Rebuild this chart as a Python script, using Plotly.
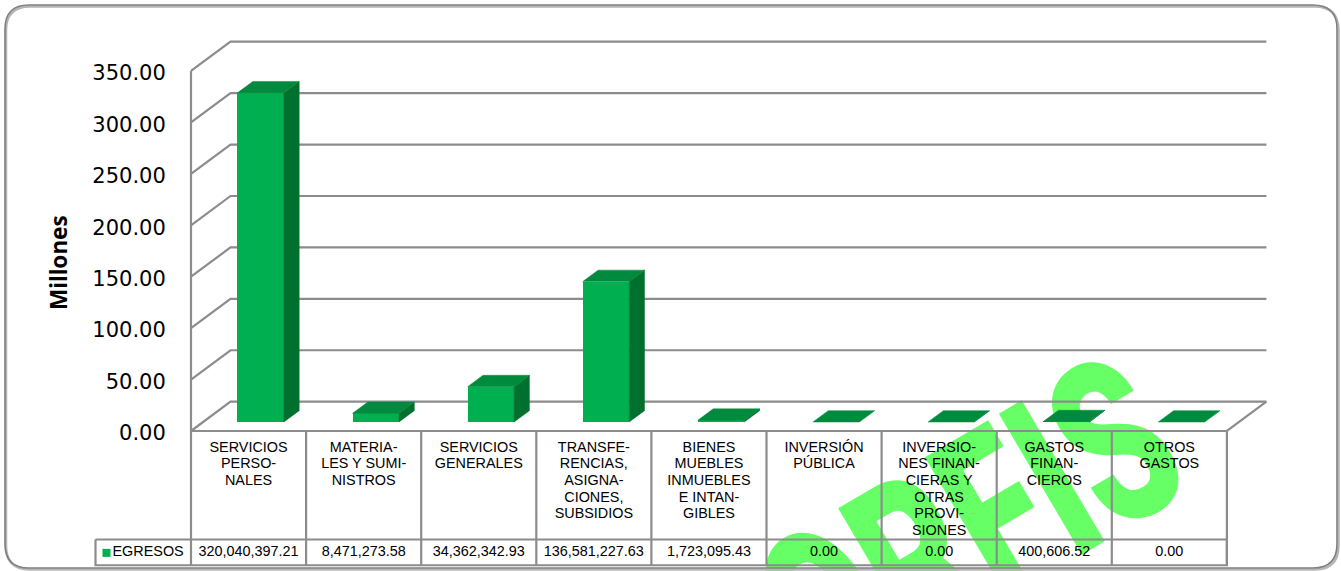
import plotly.graph_objects as go

WIDTH, HEIGHT = 1341, 571

# Spending chapters, one label line per list entry
categories = [
    ["SERVICIOS", "PERSO-", "NALES"],
    ["MATERIA-", "LES Y SUMI-", "NISTROS"],
    ["SERVICIOS", "GENERALES"],
    ["TRANSFE-", "RENCIAS,", "ASIGNA-", "CIONES,", "SUBSIDIOS"],
    ["BIENES", "MUEBLES", "INMUEBLES", "E INTAN-", "GIBLES"],
    ["INVERSIÓN", "PÚBLICA"],
    ["INVERSIO-", "NES FINAN-", "CIERAS Y", "OTRAS", "PROVI-", "SIONES"],
    ["GASTOS", "FINAN-", "CIEROS"],
    ["OTROS", "GASTOS"],
]
egresos = [320040397.21, 8471273.58, 34362342.93, 136581227.63, 1723095.43,
           0.00, 0.00, 400606.52, 0.00]
y_ticks = [0, 50, 100, 150, 200, 250, 300, 350]
series_name = "EGRESOS"

# Axis calibration: one category is 115.1 px wide, one million is 1.0286 px tall
PX_PER_CAT = 115.1
PX_PER_M = 1.0286
X_ORIGIN_PX = 191
Y_ORIGIN_PX = 431

# Oblique depth of the chart box and of the bars, in axis units
DEPTH_X = 39.5 / PX_PER_CAT
DEPTH_Y = 29.3 / PX_PER_M
BAR_FRONT = 0.307
BAR_BACK = 0.695
BAR_WIDTH = 46.4 / PX_PER_CAT

# Table geometry below the floor, in y-axis units
ROW_TOP = -105.5
ROW_BOTTOM = -130.5
ROW_MID = -118.5
LABEL_FIRST = -16.6
LABEL_STEP = -16.2
KEY_LEFT = -95.5 / PX_PER_CAT

GREEN_FRONT = "#00B050"
GREEN_TOP = "#008A3E"
GREEN_SIDE = "#00702F"
LINE = "#8C8C8C"
TEXT_FONT = dict(family="Liberation Sans", size=14.4, color="#000000")

n = len(categories)
fig = go.Figure()


def line_trace(xs, ys, z=0, width=2.2):
    fig.add_trace(go.Scatter(x=xs, y=ys, mode="lines", zorder=z, showlegend=False,
                             hoverinfo="skip", line=dict(color=LINE, width=width)))


def face_trace(xs, ys, color, z=2):
    fig.add_trace(go.Scatter(x=xs, y=ys, mode="lines", fill="toself", fillcolor=color,
                             zorder=z, showlegend=False, hoverinfo="skip",
                             line=dict(color=color, width=0.5)))


# Side wall and back wall gridlines
for t in y_ticks:
    line_trace([0, DEPTH_X, n + DEPTH_X], [t, t + DEPTH_Y, t + DEPTH_Y])

# Floor edges and the left wall's front edge
line_trace([0, n, n + DEPTH_X], [0, 0, DEPTH_Y])
line_trace([0, 0], [0, y_ticks[-1]])

# Data table grid
for i in range(n + 1):
    line_trace([i, i], [0, ROW_BOTTOM], z=3)
line_trace([KEY_LEFT, n, n, KEY_LEFT, KEY_LEFT],
           [ROW_TOP, ROW_TOP, ROW_BOTTOM, ROW_BOTTOM, ROW_TOP], z=3)

# Bars in oblique projection: front face from the bar trace, top and side as polygons
values_m = [v / 1e6 for v in egresos]
front_x = [i + 0.5 + BAR_FRONT * DEPTH_X for i in range(n)]
front_base = BAR_FRONT * DEPTH_Y
fig.add_trace(go.Bar(x=front_x, y=values_m, base=[front_base] * n, width=BAR_WIDTH,
                     marker=dict(color=GREEN_FRONT, line=dict(width=0)),
                     zorder=1, showlegend=False, hoverinfo="skip"))

shift_x = (BAR_BACK - BAR_FRONT) * DEPTH_X
shift_y = (BAR_BACK - BAR_FRONT) * DEPTH_Y
for cx, v in zip(front_x, values_m):
    left, right = cx - BAR_WIDTH / 2, cx + BAR_WIDTH / 2
    bottom, top = front_base, front_base + v
    if v > 0:
        face_trace([right, right + shift_x, right + shift_x, right, right],
                   [bottom, bottom + shift_y, top + shift_y, top, bottom], GREEN_SIDE)
    face_trace([left, right, right + shift_x, left + shift_x, left],
               [top, top, top + shift_y, top + shift_y, top], GREEN_TOP)

# Category labels, one text point per line for tight leading
lab_x, lab_y, lab_t = [], [], []
for i, lines in enumerate(categories):
    for j, s in enumerate(lines):
        lab_x.append(i + 0.5)
        lab_y.append(LABEL_FIRST + j * LABEL_STEP)
        lab_t.append(s)
fig.add_trace(go.Scatter(x=lab_x, y=lab_y, text=lab_t, mode="text", textposition="middle center",
                         textfont=TEXT_FONT, zorder=4, showlegend=False, hoverinfo="skip"))

# Value row of the data table
fig.add_trace(go.Scatter(x=[i + 0.5 for i in range(n)], y=[ROW_MID] * n,
                         text=[f"{v:,.2f}" for v in egresos], mode="text",
                         textposition="middle center", textfont=TEXT_FONT,
                         zorder=4, showlegend=False, hoverinfo="skip"))

# Legend key cell
fig.add_trace(go.Scatter(x=[KEY_LEFT + 11 / PX_PER_CAT], y=[ROW_MID], text=[series_name],
                         mode="markers+text", textposition="middle right", textfont=TEXT_FONT,
                         marker=dict(symbol="square", size=8, color=GREEN_FRONT),
                         zorder=4, showlegend=False, hoverinfo="skip"))


def rounded_rect(x0, y0, x1, y1, r):
    fx = lambda v: v / WIDTH
    fy = lambda v: 1 - v / HEIGHT
    return (f"M{fx(x0 + r)},{fy(y0)} L{fx(x1 - r)},{fy(y0)} "
            f"Q{fx(x1)},{fy(y0)} {fx(x1)},{fy(y0 + r)} L{fx(x1)},{fy(y1 - r)} "
            f"Q{fx(x1)},{fy(y1)} {fx(x1 - r)},{fy(y1)} L{fx(x0 + r)},{fy(y1)} "
            f"Q{fx(x0)},{fy(y1)} {fx(x0)},{fy(y1 - r)} L{fx(x0)},{fy(y0 + r)} "
            f"Q{fx(x0)},{fy(y0)} {fx(x0 + r)},{fy(y0)} Z")


SEAL_X, SEAL_Y = 961, 515
SEAL_SQUEEZE = 0.67
shapes = [
    # Seal text that sits behind the whole chart
    dict(type="rect", xref="paper", yref="paper", layer="below",
         x0=(SEAL_X - 200) / WIDTH, x1=(SEAL_X + 200) / WIDTH,
         y0=1 - (SEAL_Y + 20) / HEIGHT, y1=1 - (SEAL_Y - 20) / HEIGHT,
         line=dict(width=0), fillcolor="rgba(0,0,0,0)",
         label=dict(text="ORFIS", textangle=-30.5, textposition="middle center",
                    font=dict(family="Roboto", size=230, color="#66FF66", weight=900))),
    # Card outline with a soft lower-right edge
    dict(type="path", xref="paper", yref="paper", layer="above",
         path=rounded_rect(6, 6.5, 1338.5, 569.5, 24),
         line=dict(color="#B5B5B5", width=2.5)),
    dict(type="path", xref="paper", yref="paper", layer="above",
         path=rounded_rect(5, 5, 1337, 568, 24),
         line=dict(color="#808080", width=1.6)),
]

fig.update_layout(
    width=WIDTH, height=HEIGHT, autosize=False,
    margin=dict(l=0, r=0, t=0, b=0, pad=0),
    paper_bgcolor="#FFFFFF", plot_bgcolor="rgba(0,0,0,0)",
    shapes=shapes, showlegend=False, bargap=0,
    annotations=[dict(text="<b>Millones</b>", textangle=-90, xref="paper", yref="paper",
                      x=58.5 / WIDTH, y=1 - 262.5 / HEIGHT, showarrow=False,
                      xanchor="center", yanchor="middle",
                      font=dict(family="Noto Sans", size=22.5, color="#000000"))],
    xaxis=dict(range=[-X_ORIGIN_PX / PX_PER_CAT, (WIDTH - X_ORIGIN_PX) / PX_PER_CAT],
               domain=[0, 1], visible=False, fixedrange=True),
    yaxis=dict(range=[(Y_ORIGIN_PX - HEIGHT) / PX_PER_M, Y_ORIGIN_PX / PX_PER_M],
               domain=[0, 1], anchor="free", position=X_ORIGIN_PX / WIDTH, side="left",
               tickvals=y_ticks, ticktext=[f"{t:.2f}" for t in y_ticks],
               ticks="outside", ticklen=21, tickcolor="rgba(0,0,0,0)", ticklabelshift=2,
               showgrid=False, zeroline=False, showline=False, fixedrange=True,
               tickfont=dict(family="DejaVu Sans", size=21, color="#000000")),
)

# The seal's lettering is condensed, so its text element gets a horizontal squeeze
squeeze_script = """
var gd = document.getElementById('{plot_id}');
gd.querySelectorAll('text').forEach(function (t) {
  if (t.textContent === 'ORFIS') {
    var cx = parseFloat(t.getAttribute('x'));
    var base = t.getAttribute('transform') || '';
    t.setAttribute('transform', base + ' translate(' + cx + ' 0) scale(%s 1) translate(' + (-cx) + ' 0)');
  }
});
""" % SEAL_SQUEEZE

fig.write_html("out.html", config=dict(displayModeBar=False), post_script=squeeze_script)
